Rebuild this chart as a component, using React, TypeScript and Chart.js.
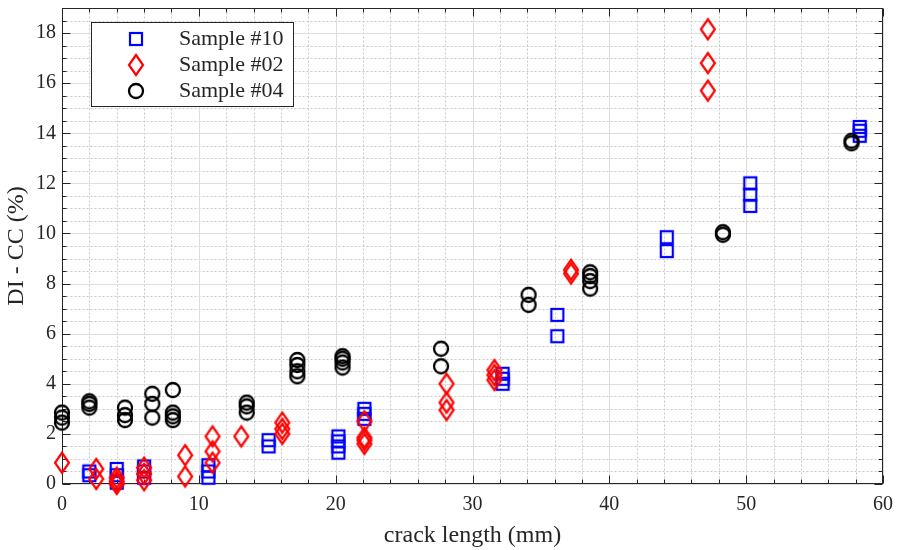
import React, { useEffect, useRef } from 'react';
import { Chart, registerables } from 'chart.js';

Chart.register(...registerables);

// ---- data ----
const sample10X = [2, 2, 4, 4, 4, 6, 6, 6, 10.7, 10.7, 10.7, 15.1, 15.1, 20.2, 20.2, 20.2, 20.2, 22.1, 22.1, 22.1, 32.2, 32.2, 32.2, 36.2, 36.2, 44.2, 44.2, 50.3, 50.3, 50.3, 58.3, 58.3, 58.3];
const sample10Y = [0.35, 0.5, 0.05, 0.35, 0.6, 0.25, 0.5, 0.7, 0.25, 0.5, 0.75, 1.5, 1.75, 1.25, 1.5, 1.7, 1.9, 2.6, 2.8, 3.0, 4.0, 4.2, 4.4, 5.9, 6.75, 9.3, 9.85, 11.1, 11.55, 12.0, 13.9, 14.1, 14.25];

const sample02X = [0, 2.5, 2.5, 4, 4, 4, 6, 6, 6, 9, 9, 11, 11, 11, 13.1, 16.1, 16.1, 16.1, 22.1, 22.1, 22.1, 22.1, 28.1, 28.1, 28.1, 31.6, 31.6, 31.6, 37.2, 37.2, 47.2, 47.2, 47.2];
const sample02Y = [0.85, 0.2, 0.6, 0.0, 0.1, 0.25, 0.15, 0.4, 0.65, 0.3, 1.15, 0.85, 1.3, 1.9, 1.9, 2.0, 2.2, 2.45, 1.6, 1.75, 1.85, 2.5, 2.95, 3.25, 4.0, 4.15, 4.35, 4.55, 8.4, 8.55, 15.7, 16.8, 18.15];

const sample04X = [0, 0, 0, 2, 2, 2, 4.6, 4.6, 4.6, 6.6, 6.6, 6.6, 8.1, 8.1, 8.1, 8.1, 13.5, 13.5, 13.5, 17.2, 17.2, 17.2, 17.2, 20.5, 20.5, 20.5, 20.5, 27.7, 27.7, 34.1, 34.1, 38.6, 38.6, 38.6, 38.6, 48.3, 48.3, 57.7, 57.7];
const sample04Y = [2.45, 2.65, 2.85, 3.05, 3.2, 3.3, 2.55, 2.75, 3.05, 2.65, 3.2, 3.6, 2.55, 2.7, 2.85, 3.75, 2.85, 3.1, 3.25, 4.3, 4.5, 4.75, 4.95, 4.65, 4.85, 5.0, 5.1, 4.7, 5.4, 7.15, 7.55, 7.8, 8.1, 8.3, 8.45, 9.95, 10.05, 13.6, 13.7];

const seriesLabels = ['Sample #10', 'Sample #02', 'Sample #04'];
const xTickValues = [0, 10, 20, 30, 40, 50, 60];
const yTickValues = [0, 2, 4, 6, 8, 10, 12, 14, 16, 18];
const xTitle = 'crack length (mm)';
const yTitle = 'DI - CC (%)';

const X_MIN = 0, X_MAX = 60, X_MINOR = 2, X_MAJOR = 10;
const Y_MIN = 0, Y_MAX = 19, Y_MINOR = 0.5, Y_MAJOR = 2;

const AXIS_COLOR = '#262626';
const FONT = "'Liberation Serif', 'Times New Roman', serif";

function makeMarker(kind: string, color: string): HTMLCanvasElement {
  const c = document.createElement('canvas');
  const ctx = c.getContext('2d')!;
  if (kind === 'square') {
    c.width = 16; c.height = 16;
    ctx.strokeStyle = color; ctx.lineWidth = 2.2;
    ctx.strokeRect(2, 2, 12, 12);
  } else if (kind === 'diamond') {
    c.width = 20; c.height = 26;
    ctx.strokeStyle = color; ctx.lineWidth = 2.2; ctx.lineJoin = 'miter';
    ctx.beginPath();
    ctx.moveTo(10, 3); ctx.lineTo(17, 13); ctx.lineTo(10, 23); ctx.lineTo(3, 13); ctx.closePath();
    ctx.stroke();
  } else {
    c.width = 18; c.height = 18;
    ctx.strokeStyle = color; ctx.lineWidth = 2.3;
    ctx.beginPath(); ctx.arc(9, 9, 7, 0, Math.PI * 2); ctx.stroke();
  }
  return c;
}

const toPoints = (xs: number[], ys: number[]) => xs.map((x, i) => ({ x, y: ys[i] }));

export default function App() {
  const ref = useRef<HTMLCanvasElement>(null);

  useEffect(() => {
    if (!ref.current) return;
    const markers = [
      makeMarker('square', '#0000ff'),
      makeMarker('diamond', '#ff0000'),
      makeMarker('circle', '#000000'),
    ];

    const gridPlugin = {
      id: 'matlabGrid',
      beforeDatasetsDraw(chart: any) {
        const { ctx, chartArea: a, scales } = chart;
        const xs = scales.x, ys = scales.y;
        const line = (x1: number, y1: number, x2: number, y2: number) => {
          ctx.beginPath(); ctx.moveTo(x1, y1); ctx.lineTo(x2, y2); ctx.stroke();
        };
        const L = Math.round(a.left) + 0.5, R = Math.round(a.right) - 0.5;
        const T = Math.round(a.top) + 0.5, B = Math.round(a.bottom) - 0.5;
        ctx.save();
        ctx.lineWidth = 1;
        // minor grid
        ctx.strokeStyle = '#c9c9c9';
        ctx.setLineDash([2, 2]);
        const nx = Math.round((X_MAX - X_MIN) / X_MINOR);
        for (let i = 0; i <= nx; i++) {
          const v = X_MIN + i * X_MINOR;
          if (Math.abs(v / X_MAJOR - Math.round(v / X_MAJOR)) < 1e-9) continue;
          const p = Math.round(xs.getPixelForValue(v)) + 0.5;
          line(p, T, p, B);
        }
        const ny = Math.round((Y_MAX - Y_MIN) / Y_MINOR);
        for (let i = 0; i <= ny; i++) {
          const v = Y_MIN + i * Y_MINOR;
          if (Math.abs(v / Y_MAJOR - Math.round(v / Y_MAJOR)) < 1e-9) continue;
          const p = Math.round(ys.getPixelForValue(v)) + 0.5;
          line(L, p, R, p);
        }
        // major grid
        ctx.setLineDash([]);
        ctx.strokeStyle = '#dedede';
        xTickValues.forEach((v) => {
          const p = Math.round(xs.getPixelForValue(v)) + 0.5;
          line(p, T, p, B);
        });
        yTickValues.forEach((v) => {
          const p = Math.round(ys.getPixelForValue(v)) + 0.5;
          line(L, p, R, p);
        });
        // ticks
        ctx.strokeStyle = AXIS_COLOR;
        for (let i = 0; i <= nx; i++) {
          const v = X_MIN + i * X_MINOR;
          const major = Math.abs(v / X_MAJOR - Math.round(v / X_MAJOR)) < 1e-9;
          const len = major ? 8 : 4;
          const p = Math.round(xs.getPixelForValue(v)) + 0.5;
          line(p, B, p, B - len);
          line(p, T, p, T + len);
        }
        for (let i = 0; i <= ny; i++) {
          const v = Y_MIN + i * Y_MINOR;
          const major = Math.abs(v / Y_MAJOR - Math.round(v / Y_MAJOR)) < 1e-9;
          const len = major ? 8 : 4;
          const p = Math.round(ys.getPixelForValue(v)) + 0.5;
          line(L, p, L + len, p);
          line(R, p, R - len, p);
        }
        // box
        ctx.strokeRect(L, T, R - L, B - T);
        ctx.restore();
      },
      afterDraw(chart: any) {
        const { ctx } = chart;
        ctx.save();
        const bx = 91.5, by = 22.5, bw = 202, bh = 84;
        ctx.fillStyle = '#ffffff';
        ctx.fillRect(bx, by, bw, bh);
        ctx.strokeStyle = AXIS_COLOR;
        ctx.lineWidth = 1;
        ctx.strokeRect(bx, by, bw, bh);
        ctx.font = `22px ${FONT}`;
        ctx.fillStyle = AXIS_COLOR;
        ctx.textBaseline = 'middle';
        ctx.textAlign = 'left';
        const rowsY = [38.5, 64.5, 90.5];
        seriesLabels.forEach((label, i) => {
          const m = markers[i];
          ctx.drawImage(m, Math.round(136 - m.width / 2), Math.round(rowsY[i] - m.height / 2));
          ctx.fillText(label, 179, rowsY[i] + 1);
        });
        ctx.restore();
      },
    };

    const chart = new Chart(ref.current, {
      type: 'scatter',
      data: {
        datasets: [
          { label: seriesLabels[0], data: toPoints(sample10X, sample10Y), pointStyle: markers[0], pointRadius: 7, order: 3, clip: false },
          { label: seriesLabels[1], data: toPoints(sample02X, sample02Y), pointStyle: markers[1], pointRadius: 7, order: 2, clip: false },
          { label: seriesLabels[2], data: toPoints(sample04X, sample04Y), pointStyle: markers[2], pointRadius: 7, order: 1, clip: false },
        ] as any,
      },
      options: {
        animation: false,
        responsive: false,
        devicePixelRatio: 1,
        layout: { padding: { left: 0, right: 16, top: 1, bottom: 0 } },
        plugins: { legend: { display: false }, tooltip: { enabled: false } },
        scales: {
          x: {
            type: 'linear',
            min: X_MIN,
            max: X_MAX,
            afterBuildTicks: (s: any) => { s.ticks = xTickValues.map((v) => ({ value: v })); },
            afterFit: (s: any) => { s.height = 66; s.paddingLeft = 0; s.paddingRight = 0; },
            ticks: { color: AXIS_COLOR, font: { family: FONT, size: 20 }, padding: 9, maxRotation: 0 },
            grid: { display: false, drawTicks: false },
            border: { display: false },
            title: { display: true, text: xTitle, color: AXIS_COLOR, font: { family: FONT, size: 24 }, padding: { top: 0, bottom: 0 } },
          },
          y: {
            type: 'linear',
            min: Y_MIN,
            max: Y_MAX,
            afterBuildTicks: (s: any) => { s.ticks = yTickValues.map((v) => ({ value: v })); },
            afterFit: (s: any) => { s.width = 62; s.paddingTop = 0; s.paddingBottom = 0; },
            ticks: { color: AXIS_COLOR, font: { family: FONT, size: 20 }, padding: 6 },
            grid: { display: false, drawTicks: false },
            border: { display: false },
            title: { display: true, text: yTitle, color: AXIS_COLOR, font: { family: FONT, size: 24 }, padding: { top: 2, bottom: 0 } },
          },
        },
      },
      plugins: [gridPlugin],
    } as any);
    return () => chart.destroy();
  }, []);

  return (
    <div style={{ position: 'absolute', left: 0, top: 0, width: 899, height: 550, background: '#ffffff' }}>
      <canvas ref={ref} width={899} height={550} style={{ display: 'block', width: 899, height: 550 }} />
    </div>
  );
}
